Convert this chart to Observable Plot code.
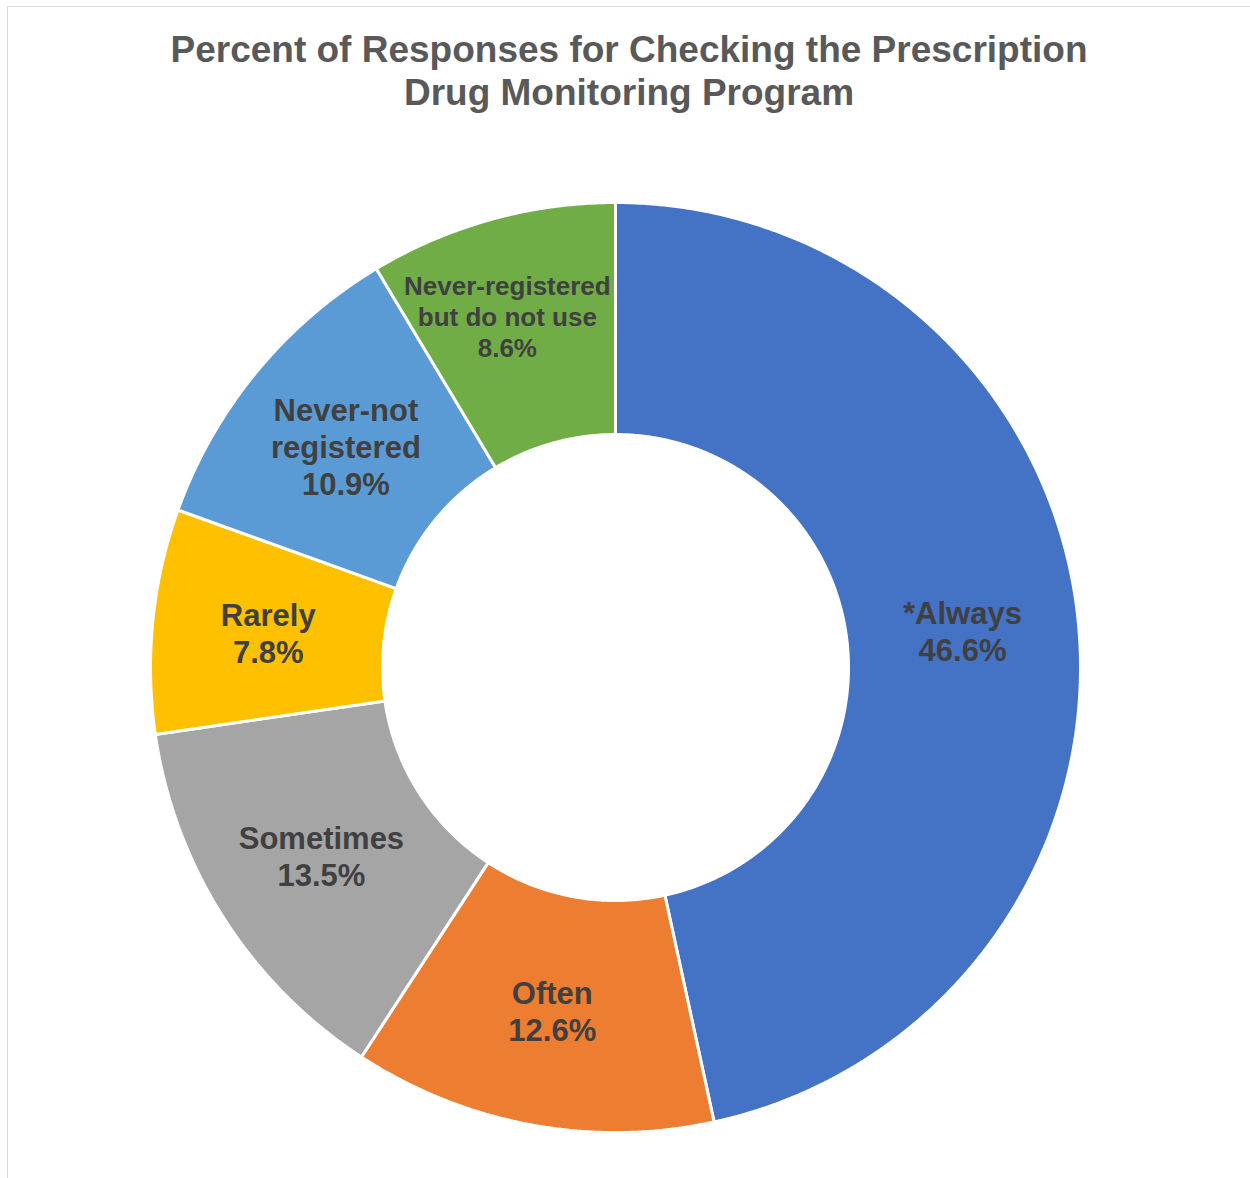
<!DOCTYPE html>
<html>
<head>
<meta charset="utf-8">
<script src="https://cdn.jsdelivr.net/npm/d3@7"></script>
<script src="https://cdn.jsdelivr.net/npm/@observablehq/plot@0.6"></script>
<style>
  html, body { margin: 0; padding: 0; background: #fff; width: 1250px; height: 1178px; overflow: hidden; }
  #frame { position: absolute; left: 7px; top: 6px; width: 1400px; height: 1400px; border: 1.5px solid #d9d9d9; box-sizing: border-box; }
  #title { position: absolute; left: 0; top: 28px; width: 1258px; text-align: center;
           font-family: "Liberation Sans", Arial, sans-serif; font-weight: bold; font-size: 37px;
           line-height: 43px; color: #595959; }
  #chart { position: absolute; left: 0; top: 114px; }
  #chart svg { display: block; }
</style>
</head>
<body>
<div id="frame"></div>
<div id="title">Percent of Responses for Checking the Prescription<br>Drug Monitoring Program</div>
<div id="chart"></div>
<script>
// ---- data ----
const categories = ["*Always", "Often", "Sometimes", "Rarely", "Never-not registered", "Never-registered but do not use"];
const labelText = ["*Always", "Often", "Sometimes", "Rarely", "Never-not\nregistered", "Never-registered\nbut do not use"];
const values = [46.6, 12.6, 13.5, 7.8, 10.9, 8.6];
const colors = ["#4472C4", "#ED7D31", "#A5A5A5", "#FFC000", "#5B9BD5", "#70AD47"];

// ---- geometry (chart layout) ----
const W = 1250, H = 1064;
const cx = 615, cy = 553;      // donut centre in svg pixels
const R = 465, r0 = 233;       // outer / inner radius

const pie = d3.pie().sort(null).value(d => d)(values);

// polygon rings for each slice, in data units (1 unit = 1px, y up)
const ringPts = [];
pie.forEach((p, i) => {
  const a0 = p.startAngle, a1 = p.endAngle;
  const n = Math.max(8, Math.ceil((a1 - a0) / (Math.PI / 360)));
  const pts = [];
  for (let k = 0; k <= n; k++) { const a = a0 + (a1 - a0) * k / n; pts.push([R * Math.sin(a), R * Math.cos(a)]); }
  for (let k = n; k >= 0; k--) { const a = a0 + (a1 - a0) * k / n; pts.push([r0 * Math.sin(a), r0 * Math.cos(a)]); }
  pts.push(pts[0]);
  pts.forEach(([x, y]) => ringPts.push({cat: categories[i], x, y}));
});

// label anchor points at slice centroid (mid radius)
const rm = (R + r0) / 2;
const labels = pie.map((p, i) => {
  const a = (p.startAngle + p.endAngle) / 2;
  return {cat: categories[i], x: rm * Math.sin(a), y: rm * Math.cos(a),
          text: labelText[i] + "\n" + values[i].toFixed(1) + "%", small: i === 5};
});

const font = "'Liberation Sans', Arial, sans-serif";

const chart = Plot.plot({
  width: W, height: H,
  margin: 0,
  x: {domain: [-cx, W - cx], range: [0, W], axis: null},
  y: {domain: [cy - H, cy], range: [H, 0], axis: null},
  color: {domain: categories, range: colors},
  style: {background: "transparent"},
  marks: [
    Plot.line(ringPts, {x: "x", y: "y", z: "cat", fill: "cat", stroke: "white", strokeWidth: 3, strokeLinejoin: "miter", curve: "linear"}),
    Plot.text(labels.filter(d => !d.small), {x: "x", y: "y", text: "text", fill: "#404040",
      fontSize: 31, fontWeight: "bold", fontFamily: font, lineHeight: 1.2}),
    Plot.text(labels.filter(d => d.small), {x: "x", y: "y", text: "text", fill: "#404040",
      fontSize: 26, fontWeight: "bold", fontFamily: font, lineHeight: 1.2, dx: -15, dy: -15})
  ]
});
document.getElementById("chart").appendChild(chart);
</script>
</body>
</html>
